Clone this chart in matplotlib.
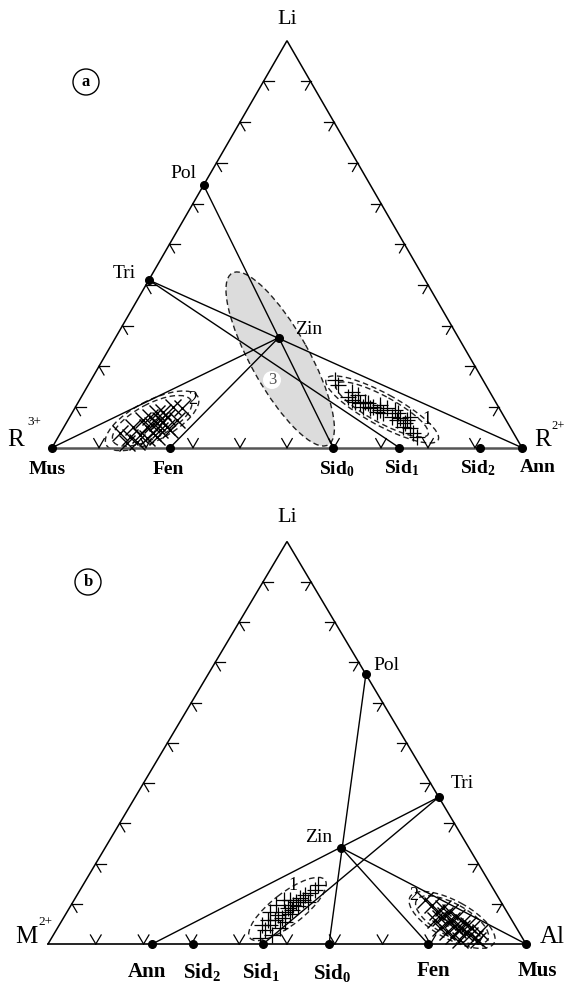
import numpy as np
import matplotlib
matplotlib.use("Agg")
import matplotlib.pyplot as plt
from matplotlib.patches import Ellipse, Circle

plt.rcParams['font.family'] = ['Liberation Serif', 'DejaVu Serif']
plt.rcParams['mathtext.fontset'] = 'custom'
plt.rcParams['mathtext.rm'] = 'Liberation Serif'
plt.rcParams['mathtext.bf'] = 'Liberation Serif:bold'
plt.rcParams['mathtext.it'] = 'Liberation Serif:italic'

# ---------------- DATA (ternary fractions: Li, right-vertex component) -------------
# Diagram (a): top = Li, left = R3+ (Mus), right = R2+ (Ann)
a_names = ["Mus", "Fen", "Sid0", "Sid1", "Sid2", "Ann", "Pol", "Tri", "Zin"]
a_li = [0.0, 0.0, 0.0, 0.0, 0.0, 0.0, 0.645, 0.412, 0.270]
a_r2 = [0.0, 0.251, 0.598, 0.739, 0.911, 1.0, 0.0, 0.0, 0.347]
a_lines = [("Pol", "Sid0"), ("Tri", "Ann"), ("Tri", "Sid1"), ("Mus", "Zin"), ("Fen", "Zin")]

a1_li = [0.166, 0.154, 0.138, 0.129, 0.113, 0.109, 0.113, 0.109, 0.101, 0.093,
         0.088, 0.085, 0.097, 0.093, 0.076, 0.068, 0.072, 0.060, 0.052, 0.048,
         0.035, 0.027, 0.076, 0.101, 0.097, 0.117, 0.125, 0.105, 0.085, 0.068]
a1_r2 = [0.519, 0.532, 0.569, 0.587, 0.588, 0.601, 0.609, 0.618, 0.633, 0.651,
         0.647, 0.662, 0.664, 0.683, 0.685, 0.699, 0.704, 0.721, 0.721, 0.738,
         0.751, 0.763, 0.724, 0.612, 0.628, 0.579, 0.568, 0.645, 0.694, 0.721]

a2_li = [0.036, 0.012, 0.014, 0.051, 0.068, 0.075, 0.085, 0.088, 0.100, 0.098,
         0.068, 0.051, 0.043, 0.036, 0.024, 0.031, 0.061, 0.068, 0.056, 0.063,
         0.075, 0.051, 0.026, 0.043, 0.026]
a2_r2 = [0.127, 0.154, 0.174, 0.147, 0.160, 0.171, 0.181, 0.192, 0.207, 0.228,
         0.232, 0.219, 0.208, 0.197, 0.190, 0.172, 0.193, 0.196, 0.185, 0.205,
         0.207, 0.177, 0.210, 0.229, 0.153]

# Diagram (b): top = Li, left = M2+, right = Al (Mus)
b_names = ["Ann", "Sid2", "Sid1", "Sid0", "Fen", "Mus", "Pol", "Tri", "Zin"]
b_li = [0.0, 0.0, 0.0, 0.0, 0.0, 0.0, 0.670, 0.365, 0.239]
b_al = [0.218, 0.303, 0.450, 0.588, 0.795, 1.0, 0.330, 0.635, 0.494]
b_lines = [("Pol", "Sid0"), ("Tri", "Ann"), ("Tri", "Sid1"), ("Mus", "Zin"), ("Fen", "Zin")]

b1_li = [0.015, 0.035, 0.047, 0.022, 0.060, 0.072, 0.065, 0.080, 0.089, 0.075,
         0.097, 0.104, 0.114, 0.109, 0.122, 0.127, 0.134, 0.147, 0.060, 0.040,
         0.055, 0.084, 0.094, 0.080, 0.097, 0.109, 0.047, 0.104, 0.109]
b1_al = [0.436, 0.436, 0.441, 0.458, 0.445, 0.445, 0.457, 0.456, 0.458, 0.469,
         0.464, 0.467, 0.470, 0.479, 0.477, 0.485, 0.492, 0.492, 0.430, 0.465,
         0.469, 0.468, 0.476, 0.424, 0.429, 0.439, 0.424, 0.492, 0.452]

b2_li = [0.109, 0.097, 0.080, 0.065, 0.072, 0.055, 0.060, 0.045, 0.035, 0.040,
         0.027, 0.022, 0.015, 0.010, 0.089, 0.080, 0.067, 0.055, 0.047, 0.040,
         0.030, 0.020, 0.010, 0.040, 0.060, 0.030]
b2_al = [0.734, 0.755, 0.774, 0.788, 0.795, 0.809, 0.815, 0.829, 0.840, 0.846,
         0.859, 0.872, 0.886, 0.895, 0.782, 0.801, 0.822, 0.841, 0.855, 0.800,
         0.820, 0.837, 0.857, 0.867, 0.780, 0.889]

# field ellipses: (Li, right) of both ends of the long axis
a_field3 = [(0.429, 0.169), (0.007, 0.584)]
a_field1 = [(0.169, 0.499), (0.019, 0.812)]
a_field2 = [(0.007, 0.112), (0.125, 0.248)]
b_field1 = [(0.015, 0.415), (0.159, 0.500)]
b_field2 = [(0.117, 0.699), (0.0025, 0.932)]

# ---------------- LAYOUT -------------
W, H = 567, 983
fig = plt.figure(figsize=(W / 100, H / 100), dpi=100)
ax = fig.add_axes([0, 0, 1, 1])
ax.set_xlim(0, W)
ax.set_ylim(H, 0)
ax.axis('off')

TA = dict(L=np.array([52.0, 447.7]), R=np.array([522.0, 447.7]), T=np.array([287.0, 40.7]))
TB = dict(L=np.array([48.0, 944.0]), R=np.array([526.0, 944.0]), T=np.array([287.0, 541.5]))


def tern(tri, li, r):
    li = np.asarray(li, float)
    r = np.asarray(r, float)
    l = 1 - li - r
    P = (l[..., None] * tri['L'] + r[..., None] * tri['R'] + li[..., None] * tri['T'])
    return P[..., 0], P[..., 1]


def unit(v):
    return v / np.linalg.norm(v)


def draw_frame(tri, base_color='k', base_lw=1.2):
    L, R, T = tri['L'], tri['R'], tri['T']
    ax.plot([L[0], T[0], R[0]], [L[1], T[1], R[1]], color='k', lw=1.1, solid_joinstyle='miter', zorder=3)
    ax.plot([L[0], R[0]], [L[1], R[1]], color=base_color, lw=base_lw, zorder=3)
    a = 10
    for k in range(1, 10):
        f = k / 10
        P = L + f * (T - L)
        for d in (unit(R - L), unit(R - T)):
            ax.plot([P[0], P[0] + a * d[0]], [P[1], P[1] + a * d[1]], color='k', lw=0.9, zorder=3)
        P = R + f * (T - R)
        for d in (unit(L - R), unit(L - T)):
            ax.plot([P[0], P[0] + a * d[0]], [P[1], P[1] + a * d[1]], color='k', lw=0.9, zorder=3)
        P = L + f * (R - L)
        for d in (unit(T - R), unit(T - L)):
            ax.plot([P[0], P[0] + 10.5 * d[0]], [P[1], P[1] + 10.5 * d[1]], color='k', lw=0.9, zorder=3)


def field(tri, ends, minor, fill=None, zorder=2, scale=1.0):
    (x0, x1), (y0, y1) = tern(tri, [ends[0][0], ends[1][0]], [ends[0][1], ends[1][1]])
    cx, cy = (x0 + x1) / 2, (y0 + y1) / 2
    length = np.hypot(x1 - x0, y1 - y0)
    ang = np.degrees(np.arctan2(y1 - y0, x1 - x0))
    e = Ellipse((cx, cy), length * scale, minor * scale, angle=ang,
                facecolor=fill if fill else 'none', edgecolor='#222222',
                lw=1.0, ls=(0, (4, 2.5)), zorder=zorder)
    ax.add_patch(e)


def draw_diagram(tri, names, li, r, lines):
    xs, ys = tern(tri, li, r)
    pos = {n: (x, y) for n, x, y in zip(names, xs, ys)}
    for a, b in lines:
        ax.plot([pos[a][0], pos[b][0]], [pos[a][1], pos[b][1]], color='k', lw=1.0, zorder=4)
    ax.plot(xs, ys, 'o', color='k', ms=5.5, zorder=6)


# ---------------- Diagram (a) -------------
field(TA, a_field3, 58, fill='#dcdcdc', zorder=1)
draw_frame(TA, base_color='#555555', base_lw=1.8)
draw_diagram(TA, a_names, a_li, a_r2, a_lines)
field(TA, a_field1, 32)
field(TA, a_field1, 32, scale=0.82)
field(TA, a_field2, 40)
field(TA, a_field2, 40, scale=0.85)
x, y = tern(TA, a1_li, a1_r2)
ax.plot(x, y, '+', color='k', ms=12, mew=0.9, zorder=5)
x, y = tern(TA, a2_li, a2_r2)
ax.plot(x, y, 'x', color='k', ms=11, mew=1.0, zorder=5)

# ---------------- Diagram (b) -------------
draw_frame(TB)
draw_diagram(TB, b_names, b_li, b_al, b_lines)
field(TB, b_field1, 32)
field(TB, b_field2, 38)
field(TB, b_field2, 38, scale=0.85)
x, y = tern(TB, b1_li, b1_al)
ax.plot(x, y, '+', color='k', ms=11, mew=0.9, zorder=5)
x, y = tern(TB, b2_li, b2_al)
ax.plot(x, y, 'x', color='k', ms=11, mew=1.0, zorder=5)

# ---------------- Text -------------
def t(x, y, s, size=12, weight='normal', **kw):
    ax.text(x, y, s, fontsize=size, fontweight=weight, ha='center', va='center', zorder=8, **kw)

# (a)
t(287, 20, "Li", 16)
t(183, 174, "Pol", 14)
t(124, 274, "Tri", 14)
t(309, 330, "Zin", 14)
t(16, 440, "R", 18)
t(34, 422, "3+", 9.5)
t(543, 440, "R", 18)
t(558, 426, "2+", 9)
bl_y = 469
t(47, bl_y, "Mus", 14, 'bold')
t(168, bl_y, "Fen", 14, 'bold')
t(337, bl_y, r"$\mathbf{Sid_0}$", 14)
t(402, bl_y - 1, r"$\mathbf{Sid_1}$", 14)
t(478, bl_y - 1, r"$\mathbf{Sid_2}$", 14)
t(538, bl_y - 2, "Ann", 14, 'bold')
ax.add_patch(Circle((272, 380), 9, facecolor='white', edgecolor='none', zorder=7))
t(272, 380, "3", 12, color='#555555')
t(427, 420, "1", 13)
t(193, 399, "2", 13)
ax.add_patch(Circle((86, 82), 13, facecolor='white', edgecolor='k', lw=1.0, zorder=7))
t(86, 82, "a", 12, 'bold')

# (b)
t(287, 518, "Li", 16)
t(386, 665, "Pol", 14)
t(462, 783, "Tri", 14)
t(319, 837, "Zin", 14)
t(26, 937, "M", 18)
t(45, 922, "2+", 9.5)
t(552, 937, "Al", 18)
b_y = 972
t(147, b_y, "Ann", 15, 'bold')
t(202, b_y, r"$\mathbf{Sid_2}$", 15)
t(261, b_y, r"$\mathbf{Sid_1}$", 15)
t(332, b_y + 1, r"$\mathbf{Sid_0}$", 15)
t(433, b_y - 1, "Fen", 15, 'bold')
t(537, b_y - 1, "Mus", 15, 'bold')
t(293, 886, "1", 13)
t(414, 896, "2", 13)
ax.add_patch(Circle((88, 582), 13, facecolor='white', edgecolor='k', lw=1.0, zorder=7))
t(88, 582, "b", 12, 'bold')

fig.savefig("out.png", dpi=100)
